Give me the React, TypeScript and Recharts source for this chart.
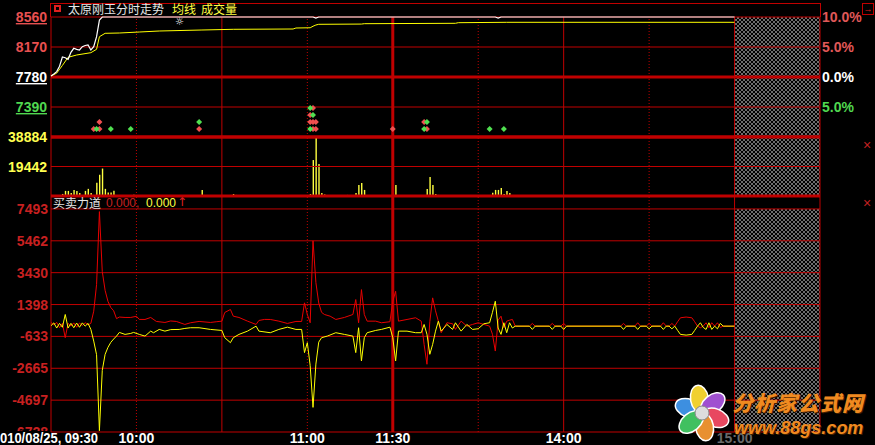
import React from "react"
import {
  ComposedChart,
  Line,
  Bar,
  Scatter,
  XAxis,
  YAxis,
  ReferenceLine,
  ReferenceArea,
} from "recharts"

// x = minutes from 09:30 (11:30 and 13:00 share minute 120), 270 = right edge
const timeTicks = [0, 30, 90, 120, 180, 240]
const timeLabels = ["010/08/25, 09:30", "10:00", "11:00", "11:30", "14:00", "15:00"]
const gridMinutes = [0, 30, 60, 90, 120, 150, 180, 210, 240, 270]
const dottedMinutes = [30, 90, 150, 210]

const prevClose = 7780
const priceTicks = [8560, 8170, 7780, 7390]
const priceLabelColors = ["#e85050", "#e85050", "#ffffff", "#50d850"]
const pctTicks = [10, 5, 0, -5]
const pctLabels = ["10.0%", "5.0%", "0.0%", "5.0%"]
const pctColors = ["#e05858", "#e05858", "#ffffff", "#50d850"]
const volumeTicks = [38884, 19442]
const forceTicks = [7493, 5462, 3430, 1398, -633, -2665, -4697, -6728]

// 分时价格 (white) and 均线 (yellow)
const price: [number, number][] = [
  [0, 7793], [1, 7820], [2, 7850], [3, 7920], [4, 8040], [5, 8030], [6, 8010], [7, 8100],
  [8, 8153], [9, 8140], [10, 8131], [11, 8174], [12, 8190], [13, 8196], [14, 8131], [15, 8174],
  [16, 8304], [17, 8520], [18, 8560], [92, 8560], [93, 8545], [94, 8560], [156, 8560],
  [157, 8545], [158, 8560], [240, 8560],
]
const avgPrice: [number, number][] = [
  [0, 7793], [2, 7830], [4, 7930], [6, 8036], [9, 8066], [14, 8096], [16, 8140], [17, 8304],
  [19, 8348], [24, 8352], [31, 8365], [38, 8378], [53, 8391], [64, 8400], [85, 8404],
  [86, 8417], [91, 8420], [92, 8440], [93, 8456], [94, 8465], [109, 8468], [110, 8473],
  [142, 8478], [143, 8486], [160, 8491], [240, 8491],
]

// 成交量
const volume: [number, number][] = [
  [4, 1340], [5, 3350], [6, 3350], [7, 2000], [8, 4000], [9, 3350], [10, 2000], [12, 3350],
  [13, 4700], [14, 2000], [16, 8700], [17, 14000], [18, 18100], [19, 4700], [20, 2300],
  [21, 2300], [22, 3400], [23, 700], [24, 600], [29, 800], [53, 4000], [64, 1300], [65, 700],
  [91, 1300], [92, 23700], [93, 38200], [94, 21100], [95, 2000], [96, 1000], [104, 700],
  [106, 700], [107, 2000], [108, 7250], [109, 8570], [110, 4000], [121, 7250], [132, 4600],
  [133, 12500], [134, 7250], [135, 1300], [136, 700], [155, 2200], [156, 4000], [157, 4000],
  [158, 5300], [159, 1300], [160, 3300], [161, 2000], [162, 700], [163, 600],
]

// signal marks: [minute, row]
const signalsRed: [number, number][] = [
  [15, 1], [17, 1], [17, 2], [52, 1], [91, 2], [91, 3], [92, 1], [92, 2], [92, 4],
  [93, 1], [93, 2], [120, 1], [131, 2], [132, 1],
]
const signalsGreen: [number, number][] = [
  [16, 1], [21, 1], [28, 1], [52, 2], [91, 1], [91, 4], [92, 3], [131, 1], [132, 2],
  [154, 1], [159, 1],
]

// 买卖力道
const buyForce: [number, number][] = [
  [0, 250], [1, 100], [2, 260], [3, -80], [4, 200], [5, -716], [6, 200], [7, 30], [8, 230],
  [9, -50], [10, 220], [11, 60], [12, 240], [13, 100], [14, 200], [15, 974], [16, 2669],
  [17, 7322], [18, 3500], [19, 2300], [20, 1600], [21, 1208], [22, 1000], [23, 500], [24, 600],
  [26, 574], [28, 574], [30, 650], [31, 450], [33, 447], [35, 574], [37, 320], [40, 256],
  [42, 350], [44, 320], [47, 129], [49, 237], [52, 320], [56, 256], [58, 300], [60, 339],
  [61, 891], [63, 1082], [64, 656], [66, 574], [69, 339], [72, 129], [73, 383], [75, 450],
  [77, 447], [80, 339], [83, 193], [86, 320], [88, 320], [89, 1507], [90, 764], [91, 237],
  [92, 5462], [93, 2800], [94, 1500], [95, 900], [96, 764], [98, 656], [100, 447], [103, 574],
  [106, 764], [107, 1716], [108, 237], [109, 2351], [110, 764], [111, 339], [114, 339],
  [116, 237], [119, 301], [120, 1608], [121, 2243], [122, 339], [125, 447], [128, 554],
  [130, 339], [131, -1141], [132, -2410], [133, 300], [134, 1824], [135, 1000], [136, 339],
  [137, -398], [139, 237], [141, 174], [142, -189], [144, 339], [146, 20], [148, 129],
  [150, 237], [152, 129], [154, 20], [155, -500], [156, -1566], [157, 400], [158, 656],
  [159, -81], [160, 339], [161, 400], [162, 447], [163, 20], [168, 20], [169, 193], [170, 20],
  [175, 20], [176, 193], [177, 20], [179, 20], [180, 193], [181, 20], [200, 20], [201, 193],
  [202, 20], [205, 20], [206, 237], [207, 20], [209, 20], [210, 193], [211, 20], [214, 20],
  [215, 237], [216, 20], [217, 20], [218, 193], [219, 20], [220, 300], [221, 554], [223, 600],
  [225, 554], [226, 300], [227, 20], [228, -81], [229, 20], [230, 237], [231, -81], [232, 237],
  [233, 20], [234, 237], [235, -60], [236, 20], [240, 20],
]
const sellForce: [number, number][] = [
  [0, 50], [1, 230], [2, -100], [3, 200], [4, -50], [5, 764], [6, -100], [7, 200], [8, -80],
  [9, 220], [10, -50], [11, 230], [12, 20], [13, 200], [14, -189], [15, -932], [16, -1800],
  [17, -6644], [18, -2800], [19, -1775], [20, -1331], [21, -1013], [22, -800], [23, -614],
  [24, -379], [26, -506], [28, -443], [29, -380], [31, -506], [33, -614], [35, -297],
  [36, -400], [38, -189], [40, -297], [42, -200], [45, -189], [47, -125], [49, -81], [52, -81],
  [56, -189], [60, -252], [61, -716], [63, -1033], [64, -716], [66, -506], [69, -297],
  [72, 20], [73, -297], [77, -398], [80, -189], [83, -43], [86, -189], [88, -189],
  [89, -1667], [90, -1033], [91, -2500], [92, -5159], [93, -2400], [94, -1000], [95, -716],
  [97, -614], [100, -398], [103, -506], [106, -614], [107, -1667], [108, -81], [109, -2200],
  [110, -716], [111, -398], [114, -252], [116, -189], [119, -43], [120, -716], [121, -2200],
  [122, -297], [125, -297], [128, -398], [130, -398], [131, 129], [132, -500], [133, -1775],
  [134, -1141], [135, -297], [136, 339], [137, -297], [139, 129], [141, -189], [142, 237],
  [144, -297], [146, 129], [148, -189], [150, -145], [152, 174], [154, 237], [155, 900],
  [156, 1608], [157, -100], [158, -506], [159, 237], [160, -398], [161, 237], [162, -100],
  [163, 20], [168, 20], [169, -189], [170, 20], [175, 20], [176, -189], [177, 20], [179, 20],
  [180, -189], [181, 20], [200, 20], [201, -189], [202, 20], [205, 20], [206, -189], [207, 20],
  [209, 20], [210, -150], [211, 20], [214, 20], [215, -189], [216, 20], [217, 20], [218, -150],
  [219, 20], [220, -250], [221, -506], [223, -550], [225, -506], [226, -250], [227, 20],
  [228, 237], [229, -60], [230, -189], [231, 237], [232, -189], [233, 20], [234, -150],
  [235, 200], [236, 20], [240, 20],
]

const W = 875
const H = 445
const RED = "#c00000"
const NUM_FONT = "'Liberation Sans', Arial, sans-serif"
const CJK_FONT = "'Noto Sans CJK SC', sans-serif"

const rows = (pairs: [number, number][]) => pairs.map(([m, v]) => ({ m, v }))
const sigRows = (pairs: [number, number][]) => pairs.map(([m, level]) => ({ m, level }))

const priceRows = rows(price)
const pctRows = price.map(([m, v]) => ({ m, v: (v / prevClose - 1) * 100 }))
const avgRows = rows(avgPrice)
const volumeRows = rows(volume)
const buyRows = rows(buyForce)
const sellRows = rows(sellForce)

const layer: React.CSSProperties = { position: "absolute", left: 0, top: 0 }

function Diamond(props: any) {
  const { cx, cy, fill } = props
  if (cx == null || cy == null) return null
  return <path d={`M${cx},${cy - 3}L${cx + 3},${cy}L${cx},${cy + 3}L${cx - 3},${cy}Z`} fill={fill} />
}

function NumLabel({ x, y, text, color, anchor, underline, clip }: any) {
  return (
    <text
      x={x}
      y={y}
      dy={5}
      textAnchor={anchor}
      fill={color}
      fontSize={14}
      fontWeight="bold"
      fontFamily={NUM_FONT}
      clipPath={clip}
      style={underline ? { textDecoration: "underline" } : undefined}
    >
      {text}
    </text>
  )
}

function PriceTick(props: any) {
  const i = priceTicks.indexOf(props.payload.value)
  if (i < 0) return null
  return (
    <NumLabel
      x={props.x}
      y={props.y}
      text={String(priceTicks[i])}
      color={priceLabelColors[i]}
      anchor="end"
      underline={i !== 1}
    />
  )
}

function PctTick(props: any) {
  const i = pctTicks.indexOf(props.payload.value)
  if (i < 0) return null
  return <NumLabel x={props.x} y={props.y} text={pctLabels[i]} color={pctColors[i]} anchor="start" />
}

function VolumeTick(props: any) {
  return <NumLabel x={props.x} y={props.y} text={String(props.payload.value)} color="#ffff50" anchor="end" />
}

function ForceTick(props: any) {
  const last = props.payload.value === forceTicks[forceTicks.length - 1]
  return (
    <NumLabel
      x={props.x}
      y={props.y}
      text={String(props.payload.value)}
      color="#c82020"
      anchor="end"
      clip={last ? "url(#clipLow)" : undefined}
    />
  )
}

function TimeTick(props: any) {
  const i = timeTicks.indexOf(props.payload.value)
  if (i < 0) return null
  const first = i === 0
  const last = i === timeTicks.length - 1
  return (
    <text
      x={first ? props.x - 51 : props.x}
      y={props.y}
      dy={11}
      textAnchor={first ? "start" : "middle"}
      textLength={first ? 98 : undefined}
      lengthAdjust={first ? "spacingAndGlyphs" : undefined}
      fill={last ? "#6a6a6a" : "#ffffff"}
      fontSize={14}
      fontWeight="bold"
      fontFamily={NUM_FONT}
    >
      {timeLabels[i]}
    </text>
  )
}

function verticalLines(yAxisId: string) {
  return gridMinutes.map((m) => (
    <ReferenceLine
      key={"v" + m}
      x={m}
      yAxisId={yAxisId}
      stroke={RED}
      strokeWidth={m === 120 ? 3 : 1}
      strokeDasharray={dottedMinutes.includes(m) ? "1 2" : undefined}
      ifOverflow="visible"
    />
  ))
}

function horizontalLines(yAxisId: string, values: number[], thick: number[]) {
  return values.map((v) => (
    <ReferenceLine
      key={"h" + v}
      y={v}
      yAxisId={yAxisId}
      stroke={RED}
      strokeWidth={thick.includes(v) ? 3 : 1}
      ifOverflow="visible"
    />
  ))
}

function Watermark() {
  const petals = [
    { a: -70, c: "#3d8fe0" },
    { a: -10, c: "#f0d030" },
    { a: 50, c: "#a050d0" },
    { a: 110, c: "#e84860" },
    { a: 170, c: "#e89030" },
    { a: 230, c: "#40c060" },
  ]
  return (
    <>
      <svg width={60} height={62} style={{ position: "absolute", left: 672, top: 382 }}>
        {petals.map((p) => (
          <ellipse
            key={p.a}
            cx={30}
            cy={17}
            rx={9}
            ry={14}
            fill={p.c}
            stroke="#fff"
            strokeWidth={1.5}
            transform={`rotate(${p.a} 30 31)`}
          />
        ))}
        <circle cx={30} cy={31} r={7} fill="#ddd" stroke="#888" />
      </svg>
      <div
        style={{
          position: "absolute",
          left: 732,
          top: 391,
          fontFamily: CJK_FONT,
          fontSize: 21,
          lineHeight: "22px",
          fontWeight: 900,
          fontStyle: "italic",
          color: "#f08a20",
          letterSpacing: 1,
          textShadow: "1px 1px 0 #402000",
          whiteSpace: "nowrap",
        }}
      >
        分析家公式网
      </div>
      <div
        style={{
          position: "absolute",
          left: 734,
          top: 419,
          fontFamily: NUM_FONT,
          fontSize: 18,
          lineHeight: "18px",
          fontWeight: "bold",
          fontStyle: "italic",
          color: "#f08a20",
          textShadow: "1px 1px 0 #402000",
          whiteSpace: "nowrap",
        }}
      >
        www.88gs.com
      </div>
    </>
  )
}

export default function App() {
  const titleBase: React.CSSProperties = {
    position: "absolute",
    fontFamily: CJK_FONT,
    fontSize: 12,
    lineHeight: "14px",
    whiteSpace: "nowrap",
  }
  return (
    <div style={{ position: "absolute", left: 0, top: 0, width: W, height: H, background: "#000", overflow: "hidden" }}>
      <svg width={0} height={0} style={{ position: "absolute" }}>
        <defs>
          <pattern id="hatch" width={4} height={4} patternUnits="userSpaceOnUse">
            <rect width={4} height={4} fill="#000" />
            <path d="M0,0L4,4M4,0L0,4" stroke="#7a7a7a" strokeWidth={0.9} />
          </pattern>
          <clipPath id="clipLow" clipPathUnits="userSpaceOnUse">
            <rect x={0} y={0} width={51} height={431} />
          </clipPath>
        </defs>
      </svg>

      {/* price panel: grid and axes (series drawn invisibly so both axes are active) */}
      <div style={layer}>
        <ComposedChart width={W} height={140} margin={{ top: 17, right: 0, bottom: 3, left: 0 }}>
          <XAxis type="number" dataKey="m" domain={[0, 270]} hide />
          <YAxis
            yAxisId="price"
            domain={[7000, 8560]}
            ticks={priceTicks}
            interval={0}
            width={51}
            axisLine={false}
            tickLine={false}
            tickSize={2}
            tickMargin={2}
            tick={<PriceTick />}
          />
          <YAxis
            yAxisId="pct"
            orientation="right"
            domain={[-10, 10]}
            ticks={pctTicks}
            interval={0}
            width={55}
            axisLine={false}
            tickLine={false}
            tickSize={1}
            tickMargin={1}
            tick={<PctTick />}
          />
          <ReferenceArea yAxisId="price" x1={240} x2={270} y1={7000} y2={8560} fill="url(#hatch)" fillOpacity={1} stroke="none" />
          {horizontalLines("price", [8560, 8170, 7780, 7390, 7000], [7780, 7000])}
          {verticalLines("price")}
          <Line yAxisId="price" data={priceRows} dataKey="v" type="linear" stroke="none" strokeOpacity={0} dot={false} activeDot={false} isAnimationActive={false} />
          <Line yAxisId="pct" data={pctRows} dataKey="v" type="linear" stroke="none" strokeOpacity={0} dot={false} activeDot={false} isAnimationActive={false} />
        </ComposedChart>
      </div>

      {/* volume panel */}
      <div style={layer}>
        <ComposedChart width={W} height={200} data={volumeRows} margin={{ top: 137, right: 55, bottom: 4, left: 0 }}>
          <XAxis type="number" dataKey="m" domain={[0, 270]} hide />
          <YAxis
            yAxisId="vol"
            domain={[0, 38884]}
            ticks={volumeTicks}
            interval={0}
            width={51}
            axisLine={false}
            tickLine={false}
            tickSize={2}
            tickMargin={2}
            tick={<VolumeTick />}
          />
          <ReferenceArea yAxisId="vol" x1={240} x2={270} y1={0} y2={38884} fill="url(#hatch)" fillOpacity={1} stroke="none" />
          {horizontalLines("vol", [38884, 19442, 0], [38884, 0])}
          {verticalLines("vol")}
          <Bar yAxisId="vol" dataKey="v" fill="#ffff40" barSize={1.4} isAnimationActive={false} />
        </ComposedChart>
      </div>

      {/* 买卖力道 panel */}
      <div style={layer}>
        <ComposedChart width={W} height={H} margin={{ top: 196, right: 55, bottom: 0, left: 0 }}>
          <XAxis
            type="number"
            dataKey="m"
            domain={[0, 270]}
            ticks={timeTicks}
            interval={0}
            height={13}
            axisLine={false}
            tickLine={false}
            tickSize={0}
            tickMargin={0}
            tick={<TimeTick />}
          />
          <YAxis
            yAxisId="force"
            domain={[-6728, 8318]}
            ticks={forceTicks}
            interval={0}
            width={51}
            axisLine={false}
            tickLine={false}
            tickSize={2}
            tickMargin={1}
            tick={<ForceTick />}
          />
          <ReferenceArea yAxisId="force" x1={240} x2={270} y1={-6728} y2={7493} fill="url(#hatch)" fillOpacity={1} stroke="none" />
          {horizontalLines("force", forceTicks, [])}
          {verticalLines("force")}
          <Line yAxisId="force" data={buyRows} dataKey="v" type="linear" stroke="#e80000" strokeWidth={1} dot={false} activeDot={false} isAnimationActive={false} />
          <Line yAxisId="force" data={sellRows} dataKey="v" type="linear" stroke="#ffff00" strokeWidth={1} dot={false} activeDot={false} isAnimationActive={false} />
        </ComposedChart>
      </div>

      {/* price panel: lines and signals above the grid */}
      <div style={layer}>
        <ComposedChart width={W} height={140} margin={{ top: 17, right: 55, bottom: 3, left: 0 }}>
          <XAxis type="number" dataKey="m" domain={[0, 270]} hide />
          <YAxis yAxisId="price" domain={[7000, 8560]} width={51} axisLine={false} tickLine={false} tick={false} />
          <YAxis yAxisId="sig" hide domain={[-0.15, 17]} />
          <Line yAxisId="price" data={avgRows} dataKey="v" type="linear" stroke="#ffff00" strokeWidth={1} dot={false} activeDot={false} isAnimationActive={false} />
          <Line yAxisId="price" data={priceRows} dataKey="v" type="linear" stroke="#ffffff" strokeWidth={1.2} dot={false} activeDot={false} isAnimationActive={false} />
          <Scatter yAxisId="sig" data={sigRows(signalsRed)} dataKey="level" fill="#f05050" shape={<Diamond />} isAnimationActive={false} />
          <Scatter yAxisId="sig" data={sigRows(signalsGreen)} dataKey="level" fill="#50e050" shape={<Diamond />} isAnimationActive={false} />
        </ComposedChart>
      </div>

      {/* frame pieces of the title bar */}
      <div style={{ position: "absolute", left: 51, top: 3, width: 770, height: 1, background: RED }} />
      <div style={{ position: "absolute", left: 50, top: 3, width: 1, height: 14, background: RED }} />
      <div style={{ position: "absolute", left: 820, top: 3, width: 1, height: 14, background: RED }} />

      {/* titles */}
      <div style={{ position: "absolute", left: 54, top: 5, width: 3, height: 3, border: "2px solid #e02020" }} />
      <div style={{ ...titleBase, left: 68, top: 2, color: "#e6e6e6" }}>太原刚玉分时走势</div>
      <div style={{ ...titleBase, left: 172, top: 2, color: "#ffff40" }}>均线</div>
      <div style={{ ...titleBase, left: 201, top: 2, color: "#ffff40" }}>成交量</div>
      <div style={{ ...titleBase, left: 175, top: 17, color: "#ffffff", fontFamily: "'DejaVu Sans', sans-serif", fontSize: 10, lineHeight: "10px" }}>☼</div>

      <div style={{ ...titleBase, left: 53, top: 196, color: "#e6e6e6" }}>买卖力道</div>
      <div style={{ ...titleBase, left: 106, top: 196, color: "#c82020", fontFamily: NUM_FONT }}>0.000,</div>
      <div style={{ ...titleBase, left: 146, top: 196, color: "#ffff40", fontFamily: NUM_FONT }}>0.000</div>
      <div style={{ ...titleBase, left: 177, top: 195, color: "#e02020", fontFamily: "'DejaVu Sans', sans-serif" }}>↑</div>

      {/* right-side icons */}
      <div style={{ position: "absolute", left: 862, top: 3, width: 10, height: 10, border: "1px solid #c00000", color: "#e02020", fontSize: 9, lineHeight: "10px", textAlign: "center", fontFamily: NUM_FONT }}>→</div>
      <div style={{ ...titleBase, left: 863, top: 138, color: "#c02020", fontFamily: NUM_FONT, fontSize: 14 }}>×</div>
      <div style={{ ...titleBase, left: 863, top: 196, color: "#c02020", fontFamily: NUM_FONT, fontSize: 14 }}>×</div>

      <Watermark />
    </div>
  )
}
